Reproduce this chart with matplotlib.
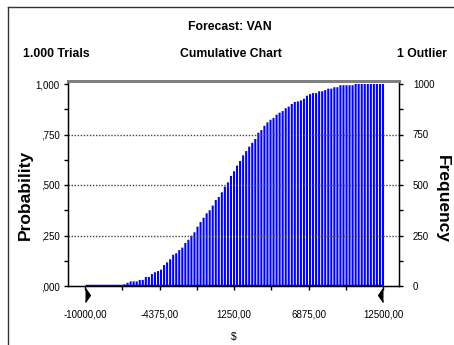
import numpy as np
import matplotlib
matplotlib.use('Agg')
import matplotlib.pyplot as plt
from matplotlib.lines import Line2D
from matplotlib.ticker import FixedLocator, MultipleLocator

# cumulative probability per bin, 13 empty bins first
n_empty = 13
cum_prob = [0.008, 0.016, 0.023, 0.023, 0.023, 0.030, 0.030, 0.045, 0.045, 0.059,
            0.068, 0.074, 0.081, 0.104, 0.117, 0.132, 0.155, 0.162, 0.178,
            0.190, 0.213, 0.229, 0.249, 0.266, 0.294, 0.317, 0.338, 0.360, 0.375,
            0.398, 0.426, 0.441, 0.464, 0.492, 0.513, 0.545, 0.568, 0.596, 0.619,
            0.647, 0.668, 0.690, 0.709, 0.728, 0.759, 0.772, 0.793, 0.810, 0.823,
            0.832, 0.848, 0.858, 0.866, 0.880, 0.888, 0.901, 0.911, 0.914,
            0.919, 0.927, 0.942, 0.950, 0.955, 0.955, 0.964, 0.964, 0.970, 0.977,
            0.977, 0.984, 0.984,
            0.994, 0.994, 0.994, 0.994, 0.994,
            1.0, 1.0, 1.0, 1.0, 1.0, 1.0, 1.0, 1.0, 1.0, 1.0]
values = [0.0] * n_empty + cum_prob

x_min, x_max = -10000.0, 12500.0
x_ticks = [-10000.0, -4375.0, 1250.0, 6875.0, 12500.0]
x_ticklabels = ['-10000,00', '-4375,00', '1250,00', '6875,00', '12500,00']
y_ticks = [0.0, 0.25, 0.5, 0.75, 1.0]
y_ticklabels = [',000', ',250', ',500', ',750', '1,000']
freq_ticks = [0, 250, 500, 750, 1000]
trials = 1000

font = ['Liberation Sans', 'DejaVu Sans']

W, H = 454, 345
fig = plt.figure(figsize=(W / 100, H / 100), dpi=100)
ax_l, ax_r, ax_b, ax_t = 68, 399, 286, 81
ax = fig.add_axes([ax_l / W, 1 - ax_b / H, (ax_r - ax_l) / W, (ax_b - ax_t) / H])

x = np.linspace(x_min, x_max, len(values))
step = x[1] - x[0]
px = (x_max - x_min) / (383 - 85)
ax.set_xlim(x_min - 17 * px, x_max + 16 * px)
ax.set_ylim(0, 1.0 + 3 / 202)

ax.plot([x[0], x[-1]], [0, 0], color='#0000ff', lw=2.5, zorder=1, solid_capstyle='butt')
ax.bar(x, values, width=step * 0.68, color='#0000ff', linewidth=0, zorder=2, snap=False)

for yv in [0.25, 0.5, 0.75]:
    ax.axhline(yv, color='#444444', lw=1, ls=(0, (1, 1.2)), zorder=3)

for s in ['left', 'right', 'bottom']:
    ax.spines[s].set_color('black')
    ax.spines[s].set_linewidth(1)
    ax.spines[s].set_zorder(5)
ax.spines['top'].set_color('#808080')
ax.spines['top'].set_linewidth(2)

ax.set_xticks(x_ticks)
ax.set_xticklabels(x_ticklabels, family=font, fontsize=7)
ax.xaxis.set_minor_locator(FixedLocator([-7187.5, -1562.5, 4062.5, 9687.5]))
ax.tick_params(axis='x', which='both', direction='out', length=3, width=1, pad=14)
ax.set_yticks(y_ticks)
ax.set_yticklabels(y_ticklabels, family=font, fontsize=7)
ax.yaxis.set_minor_locator(MultipleLocator(0.125))
ax.tick_params(axis='y', which='both', direction='out', length=3, width=1, pad=3)
ax.set_xlabel('$', family=font, fontsize=7.5, labelpad=9)

ax2 = ax.twinx()
ax2.set_ylim(0, (1.0 + 3 / 202) * trials)
ax2.set_yticks(freq_ticks)
ax2.set_yticklabels([str(v) for v in freq_ticks], family=font, fontsize=7)
ax2.yaxis.set_minor_locator(MultipleLocator(125))
ax2.tick_params(axis='y', which='both', direction='out', length=3, width=1, pad=7)
for s in ['left', 'right', 'bottom']:
    ax2.spines[s].set_color('black')
ax2.spines['top'].set_color('#808080')
ax2.spines['top'].set_linewidth(2)

# axis titles placed where the reference has them
ax.text((25 - ax_l) / (ax_r - ax_l), (ax_b - 194.5) / (ax_b - ax_t), 'Probability',
        transform=ax.transAxes, rotation=90, ha='center', va='center',
        family=font, fontsize=12.5, fontweight='bold')
ax.text((442 - ax_l) / (ax_r - ax_l), (ax_b - 199) / (ax_b - ax_t), 'Frequency',
        transform=ax.transAxes, rotation=-90, ha='center', va='center',
        family=font, fontsize=12.5, fontweight='bold')

# range markers under the axis
tr = ax.get_xaxis_transform()
ax.plot([x_min], [-0.045], marker=[(0, -1), (0.7, 0), (0, 1)], markersize=10,
        color='black', transform=tr, clip_on=False, zorder=6)
ax.plot([x_max], [-0.045], marker=[(0, -1), (-0.7, 0), (0, 1)], markersize=10,
        color='black', transform=tr, clip_on=False, zorder=6)

fig.text(230 / W, 1 - 27.5 / H, 'Forecast: VAN', family=font, fontsize=8.8,
         fontweight='bold', ha='center', va='center')
fig.text(231 / W, 1 - 54 / H, 'Cumulative Chart', family=font, fontsize=8.8,
         fontweight='bold', ha='center', va='center')
fig.text(23 / W, 1 - 54 / H, '1.000 Trials', family=font, fontsize=8.8,
         fontweight='bold', ha='left', va='center')
fig.text(447 / W, 1 - 54 / H, '1 Outlier', family=font, fontsize=8.8,
         fontweight='bold', ha='right', va='center')

# outer frame lines
fx, fy = 8 / W, 1 - 7 / H
fig.add_artist(Line2D([fx, fx], [0, fy], transform=fig.transFigure, color='#333333', lw=1))
fig.add_artist(Line2D([fx, 1], [fy, fy], transform=fig.transFigure, color='#333333', lw=1))

fig.savefig('out.png', dpi=100, facecolor='white')
